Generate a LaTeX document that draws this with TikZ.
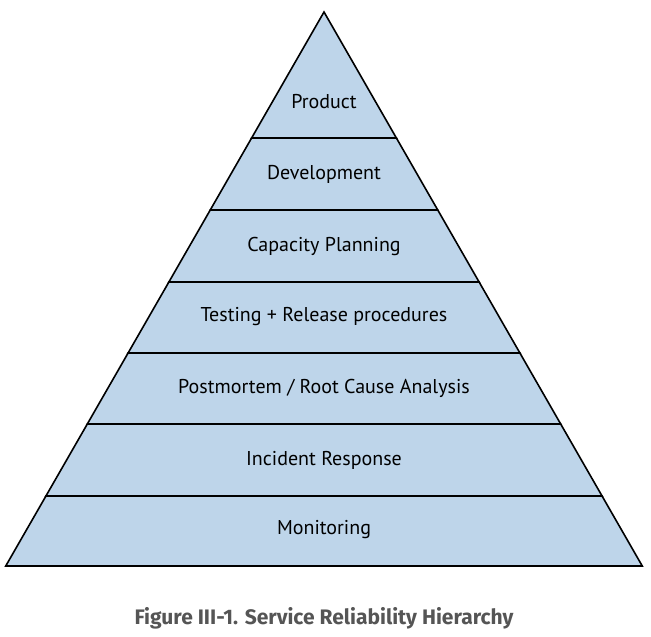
\documentclass[tikz,border=0pt]{standalone}
\usepackage{fontspec}
\setmainfont{PT Sans}
\newfontfamily\capfont{Fira Sans}
\usepackage{xcolor}
\usetikzlibrary{calc}
\definecolor{layerblue}{RGB}{190,213,234}
\definecolor{capgray}{RGB}{85,85,85}

\begin{document}
\begin{tikzpicture}[
    x=1pt, y=-1pt,
    layer/.style={fill=layerblue, draw=black, line width=1.6pt, line join=miter},
    label/.style={font=\fontsize{20}{23}\selectfont, anchor=center}
]
    \useasboundingbox (0,0) rectangle (651,637);
    % layers from top to bottom
    \foreach \ya/\yb/\name/\txt in {
        12/138/product/{Product},
        138/210/dev/{Development},
        210/282/capacity/{Capacity Planning},
        282/353/testing/{Testing + Release procedures},
        353/424/postmortem/{Postmortem / Root Cause Analysis},
        424/496/incident/{Incident Response},
        496/566/monitoring/{Monitoring}}
    {
        \pgfmathsetmacro{\xal}{324-0.5745*(\ya-12)}
        \pgfmathsetmacro{\xar}{324+0.5745*(\ya-12)}
        \pgfmathsetmacro{\xbl}{324-0.5745*(\yb-12)}
        \pgfmathsetmacro{\xbr}{324+0.5745*(\yb-12)}
        \draw[layer] (\xal,\ya) -- (\xar,\ya) -- (\xbr,\yb) -- (\xbl,\yb) -- cycle;
        \node[label] (\name) at (324,\yb-36) {\txt};
    }
    \node[font=\capfont\bfseries\fontsize{21}{24}\selectfont, text=capgray] (caption) at (324,618) {Figure III-1. Service Reliability Hierarchy};
\end{tikzpicture}
\end{document}
